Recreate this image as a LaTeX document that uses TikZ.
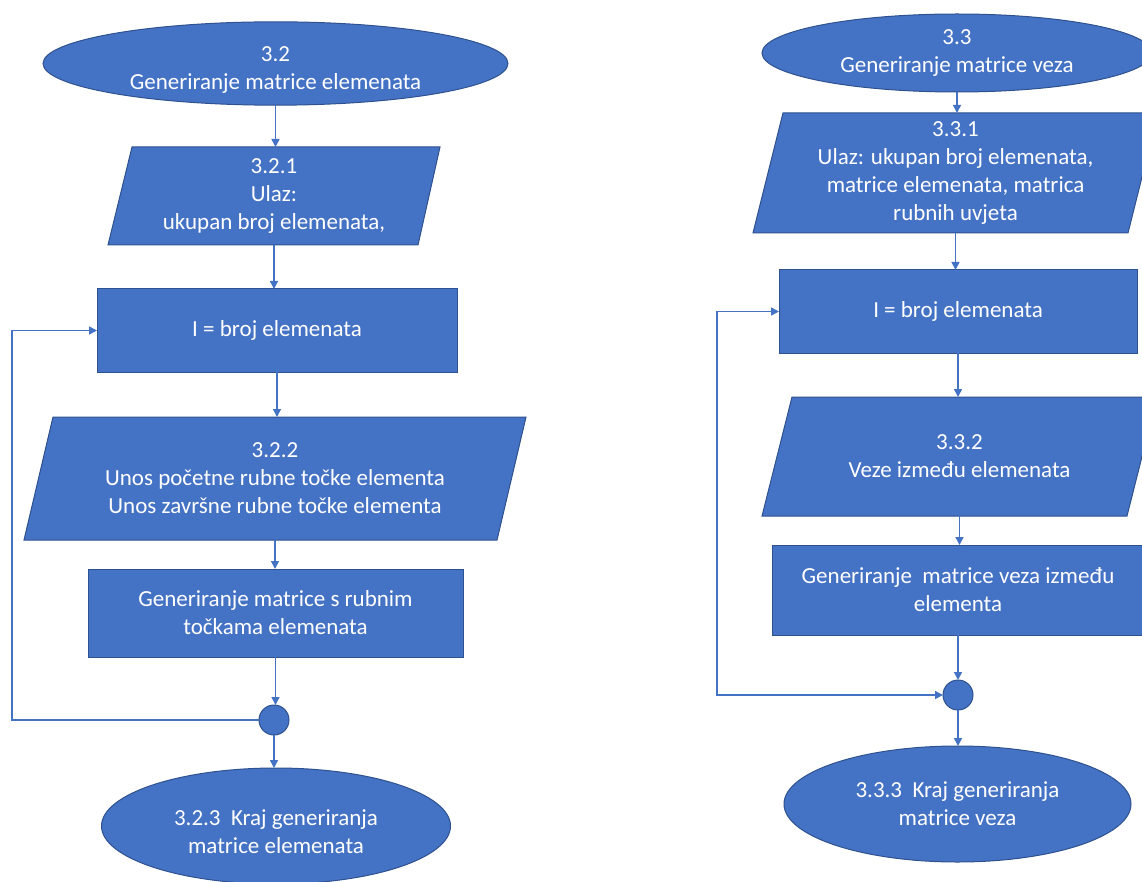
\documentclass[tikz,border=0pt]{standalone}
\usepackage{fontspec}
\setmainfont{Carlito}
\usetikzlibrary{shapes.geometric,arrows.meta}
\definecolor{boxblue}{HTML}{4472C4}
\definecolor{edgeblue}{HTML}{2F528F}
\definecolor{linkblue}{HTML}{4472C4}
\begin{document}
\begin{tikzpicture}[x=1pt,y=-1pt,
  >={Triangle[length=8pt,width=8pt]},
  every node/.style={font=\fontsize{23}{28}\selectfont, text=white, align=center, inner sep=0pt, outer sep=0pt},
  term/.style={ellipse, fill=boxblue, draw=edgeblue, line width=1pt},
  proc/.style={rectangle, fill=boxblue, draw=edgeblue, line width=1pt},
  iobox/.style={rectangle},
  joint/.style={circle, fill=boxblue, draw=edgeblue, line width=1pt, minimum size=30pt},
  para/.style={fill=boxblue, draw=edgeblue, line width=1pt},
  link/.style={draw=linkblue, line width=1.5pt, ->},
  loop2/.style={draw=linkblue, line width=1.5pt, <->},
]
\useasboundingbox (0,0) rectangle (1142,882);
\clip (0,0) rectangle (1142,882);

% ---------- left column ----------
\node[term, minimum width=465pt, minimum height=77pt] (e1) at (275.5,63.5) {\rule{0pt}{27pt}3.2\\Generiranje matrice elemenata};

\filldraw[para] (132,147) -- (440,147) -- (418,245) -- (108,245) -- cycle;
\node[iobox, minimum width=310pt, minimum height=98pt] (p1) at (274,196) {3.2.1\\Ulaz:\\ukupan broj elemenata,};

\node[proc, minimum width=360pt, minimum height=83pt] (r1) at (277,330.5) {I = broj elemenata};

\filldraw[para] (53,417) -- (526,417) -- (497,540) -- (24,540) -- cycle;
\node[iobox, minimum width=473pt, minimum height=123pt] (p2) at (275,478.5) {3.2.2\\Unos početne rubne točke elementa\\Unos završne rubne točke elementa};

\node[proc, minimum width=375pt, minimum height=88pt] (r2) at (275.5,613) {Generiranje matrice s rubnim\\točkama elemenata};

\node[joint] (c1) at (274,720) {};

\node[term, minimum width=349pt, minimum height=116pt] (e2) at (276,826) {\rule{0pt}{27pt}3.2.3\ \ Kraj generiranja\\matrice elemenata};

\draw[link] (e1.south) -- (e1.south |- p1.north);
\draw[link] (p1.south) -- (p1.south |- r1.north);
\draw[link] (r1.south) -- (r1.south |- p2.north);
\draw[link] (p2.south) -- (p2.south |- r2.north);
\draw[link] (r2.south) -- (r2.south |- c1.north);
\draw[link] (c1.south) -- (c1.south |- e2.north);
\coordinate (lx) at (12,500);
\draw[link] (c1.west) -| (lx) |- (r1.west);

% ---------- right column ----------
\node[term, minimum width=390pt, minimum height=78pt] (e3) at (957,53) {3.3\\Generiranje matrice veza};

\filldraw[para] (783,113) -- (1158,113) -- (1128,233) -- (753,233) -- cycle;
\node[iobox, minimum width=375pt, minimum height=120pt] (p3) at (955.5,173) {3.3.1\\Ulaz: ukupan broj elemenata,\\matrice elemenata, matrica\\rubnih uvjeta};

\node[proc, minimum width=358pt, minimum height=83pt] (r3) at (958,311.5) {I = broj elemenata};

\filldraw[para] (792,397) -- (1157,397) -- (1127,516) -- (762,516) -- cycle;
\node[iobox, minimum width=365pt, minimum height=119pt] (p4) at (959.5,456.5) {3.3.2\\Veze između elemenata};

\node[proc, minimum width=372pt, minimum height=90pt] (r4) at (958,590) {Generiranje\ \ matrice veza između\\elementa};

\node[joint] (c2) at (958,695) {};

\node[term, minimum width=347pt, minimum height=116pt] (e4) at (957.5,804) {3.3.3\ \ Kraj generiranja\\matrice veza};

\draw[link] (e3.south) -- (e3.south |- p3.north);
\draw[link] (p3.south) -- (p3.south |- r3.north);
\draw[link] (r3.south) -- (r3.south |- p4.north);
\draw[link] (p4.south) -- (p4.south |- r4.north);
\draw[link] (r4.south) -- (r4.south |- c2.north);
\draw[link] (c2.south) -- (c2.south |- e4.north);
\coordinate (rx) at (717,500);
\draw[loop2] (r3.west) -| (rx) |- (c2.west);
\end{tikzpicture}
\end{document}
